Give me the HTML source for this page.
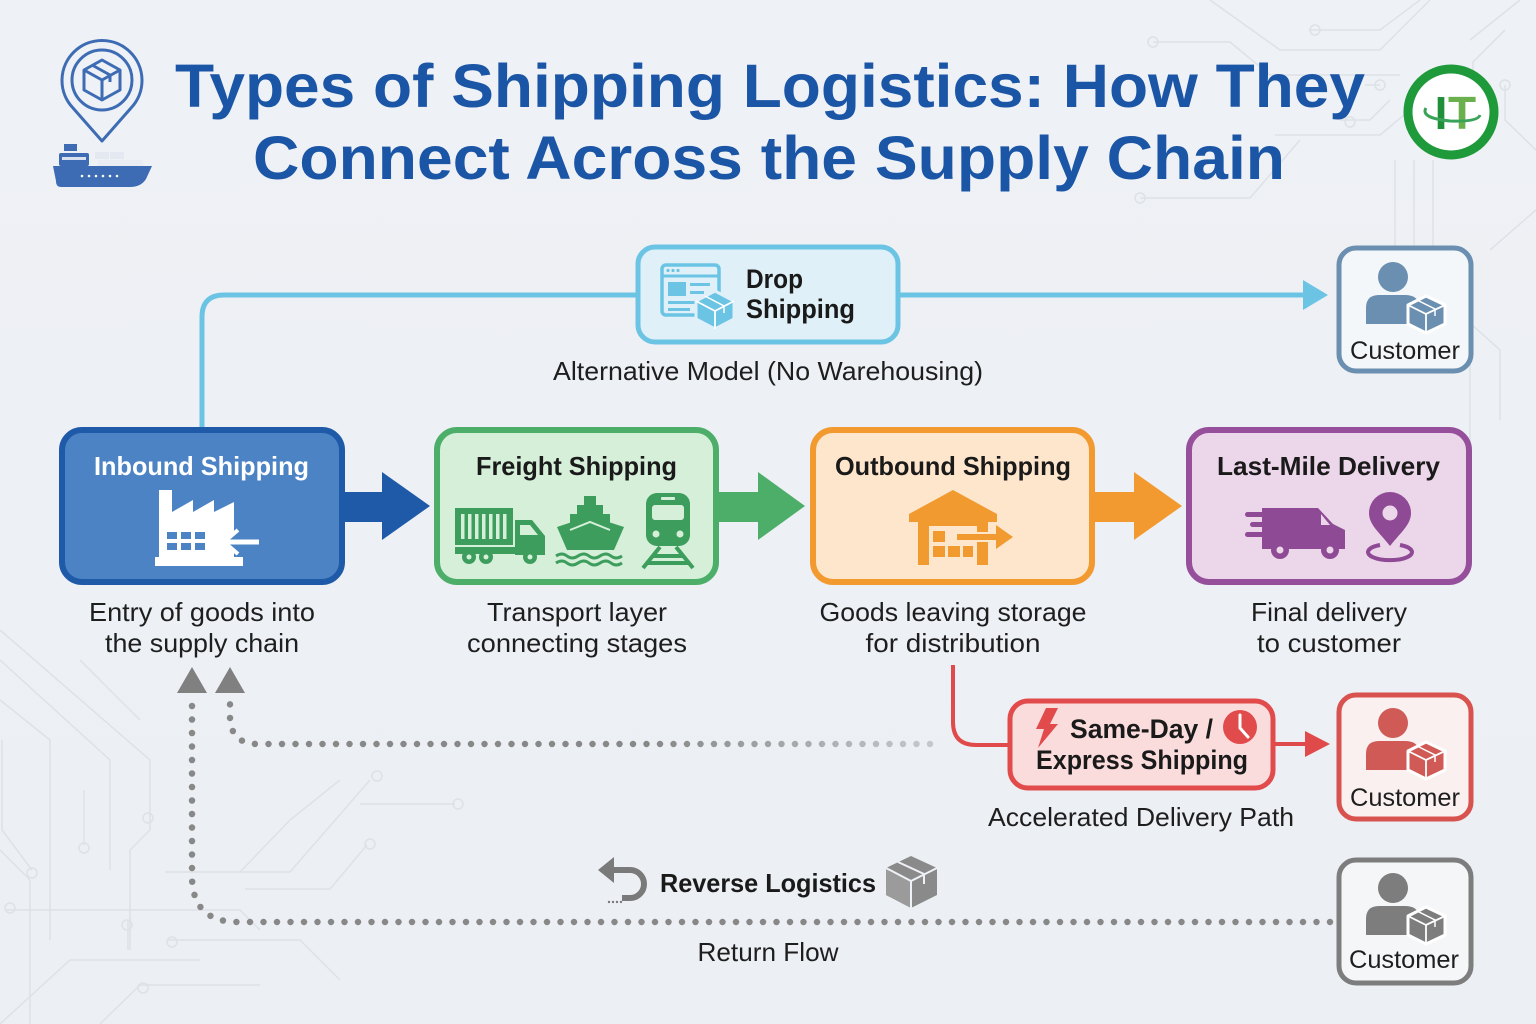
<!DOCTYPE html>
<html><head><meta charset="utf-8"><style>
html,body{margin:0;padding:0;background:#eef1f5;}
svg{display:block;}
text{font-family:"Liberation Sans",Arial,sans-serif;}
</style></head><body>
<svg width="1536" height="1024" viewBox="0 0 1536 1024" xmlns="http://www.w3.org/2000/svg">
<defs>
<linearGradient id="bg" x1="0" y1="0" x2="0" y2="1"><stop offset="0" stop-color="#eef1f5"/><stop offset="1" stop-color="#eceff3"/></linearGradient>
<linearGradient id="fade" gradientUnits="userSpaceOnUse" x1="650" y1="0" x2="930" y2="0"><stop offset="0" stop-color="#888"/><stop offset="1" stop-color="#c4c7cb"/></linearGradient>
<g id="cust">
  <circle cx="56" cy="31" r="15"/>
  <path d="M29 78 V62 Q29 49 42 49 H68 Q80 49 82 58 V78 Z"/>
  <polygon points="89,50 108,59 108,78 89,87 71,78 71,59" stroke="#ffffff" stroke-width="3" stroke-linejoin="round"/>
  <polyline points="71,59 89,68 108,59" fill="none" stroke="#ffffff" stroke-width="1.8"/>
  <line x1="89" y1="68" x2="89" y2="87" stroke="#ffffff" stroke-width="1.8"/>
  <polyline points="80,54 98,63 98,70" fill="none" stroke="#ffffff" stroke-width="1.5"/>
</g>
</defs>
<rect width="1536" height="1024" fill="url(#bg)"/>

<!-- faint circuit lines -->
<g fill="none" stroke="#dde2e8" stroke-width="1.5">
  <path d="M1210 0 L1280 50 H1380 L1430 0"/>
  <path d="M1310 30 H1380 L1420 0"/>
  <circle cx="1315" cy="30" r="5"/>
  <path d="M1153 42 H1230 L1270 75 H1400"/>
  <circle cx="1153" cy="42" r="5"/>
  <path d="M1365 85 H1380"/><circle cx="1380" cy="85" r="5"/>
  <path d="M1340 120 H1370 L1390 100"/><circle cx="1350" cy="122" r="5"/>
  <path d="M1275 135 H1380 L1410 110"/>
  <path d="M1140 198 H1250 L1300 140"/><circle cx="1140" cy="198" r="5"/>
  <path d="M1350 300 L1395 255 V160"/>
  <path d="M1414 160 V300 L1470 360 V500"/>
  <path d="M1433 160 V290 L1500 350 V420"/>
  <path d="M1470 40 L1520 0"/>
  <path d="M1505 30 L1473 62 V120"/>
  <path d="M1505 85 V120 L1536 150"/><circle cx="1505" cy="85" r="5"/>
  <path d="M1490 250 L1536 210"/>
  <path d="M0 630 L150 760 V830 L130 850 V950"/>
  <path d="M0 660 L110 760 V870"/>
  <path d="M0 700 L50 740 V940"/>
  <path d="M0 850 L30 880 L30 1024"/>
  <path d="M2 740 V830 L32 870"/><circle cx="32" cy="873" r="5"/>
  <circle cx="148" cy="818" r="5"/>
  <path d="M84 790 V845"/><circle cx="84" cy="848" r="5"/>
  <path d="M128 920 V950"/><circle cx="127" cy="925" r="5"/>
  <path d="M5 910 H240 L260 930"/><circle cx="10" cy="908" r="5"/>
  <path d="M168 940 H300 L340 980"/><circle cx="172" cy="942" r="5"/>
  <path d="M0 1024 L70 960 H200"/>
  <path d="M100 1024 L140 985 H260"/><circle cx="143" cy="988" r="5"/>
  <path d="M165 872 H290 L370 780"/><circle cx="377" cy="776" r="5"/>
  <path d="M245 889 H330 L367 845"/><circle cx="370" cy="844" r="5"/>
  <path d="M240 872 L290 820 L340 780"/>
  <path d="M360 804 H455"/><circle cx="458" cy="804" r="5"/>
  <path d="M80 660 L140 720"/>
</g>

<!-- title -->
<g fill="#1b55a6" font-weight="bold">
  <text x="175" y="107" font-size="61" textLength="1190" lengthAdjust="spacingAndGlyphs">Types of Shipping Logistics: How They</text>
  <text x="253" y="179" font-size="61" textLength="1032" lengthAdjust="spacingAndGlyphs">Connect Across the Supply Chain</text>
</g>

<!-- left logo -->
<g>
  <path d="M102 141 L73 108 A40 40 0 1 1 131 108 Z" fill="none" stroke="#3d6cb4" stroke-width="3" stroke-linejoin="round"/>
  <circle cx="102" cy="80" r="30" fill="none" stroke="#3d6cb4" stroke-width="3"/>
  <g fill="none" stroke="#3d6cb4" stroke-width="3" stroke-linejoin="round">
    <polygon points="102,60 120,70 120,90 102,100 84,90 84,70"/>
    <polyline points="84,70 102,80 120,70"/>
    <line x1="102" y1="80" x2="102" y2="100"/>
    <polyline points="92,65 110,75 110,82"/>
  </g>
  <rect x="64" y="144" width="13" height="7" fill="#3d6cb4"/>
  <rect x="59" y="153" width="30" height="13" rx="2" fill="#3d6cb4"/>
  <rect x="62" y="157" width="24" height="3" fill="#fff" opacity="0.8"/>
  <rect x="95" y="152" width="14" height="7" fill="#e4e9f1"/>
  <rect x="110" y="152" width="14" height="7" fill="#e4e9f1"/>
  <rect x="98" y="160" width="45" height="6" fill="#e9edf3"/>
  <path d="M53 166 H152 L146 179 Q141 187 130 187 H61 Q56 187 56 181 Z" fill="#3d6cb4"/>
  <g fill="#fff"><circle cx="82" cy="176" r="1.3"/><circle cx="89" cy="176" r="1.3"/><circle cx="96" cy="176" r="1.3"/><circle cx="103" cy="176" r="1.3"/><circle cx="110" cy="176" r="1.3"/><circle cx="117" cy="176" r="1.3"/></g>
</g>

<!-- right logo -->
<circle cx="1451" cy="112" r="43" fill="#ffffff" stroke="#1f9a3b" stroke-width="9"/>
<text x="1441" y="129" font-family="Liberation Serif,serif" font-weight="bold" font-size="46" fill="#1f8f3a" text-anchor="middle">I</text>
<text x="1462" y="129" font-family="Liberation Serif,serif" font-weight="bold" font-size="46" fill="#6ab04c" text-anchor="middle">T</text>
<path d="M1426 108 Q1420 118 1450 121 Q1478 122 1480 115" fill="none" stroke="#3aa35a" stroke-width="3"/>

<!-- drop shipping connector -->
<path d="M202 428 V317 Q202 295 224 295 H636" fill="none" stroke="#6cc4e4" stroke-width="5"/>
<path d="M900 295 H1310" fill="none" stroke="#6cc4e4" stroke-width="5"/>
<polygon points="1303,280 1328,295 1303,310" fill="#6cc4e4"/>

<!-- drop shipping box -->
<rect x="638" y="247" width="260" height="95" rx="17" fill="#dff0f8" stroke="#6cc4e4" stroke-width="5"/>
<g>
  <rect x="662" y="265" width="57" height="50" rx="4" fill="none" stroke="#6cc4e4" stroke-width="3.5"/>
  <line x1="662" y1="276" x2="719" y2="276" stroke="#6cc4e4" stroke-width="3"/>
  <g fill="#6cc4e4"><circle cx="668" cy="270.5" r="1.6"/><circle cx="673" cy="270.5" r="1.6"/><circle cx="678" cy="270.5" r="1.6"/>
  <rect x="668" y="282" width="18" height="14"/><rect x="690" y="283" width="20" height="3"/><rect x="690" y="291" width="14" height="3"/><rect x="668" y="301" width="28" height="3"/><rect x="668" y="308" width="22" height="3"/></g>
  <polygon points="715,291 734,301 734,319 715,329 696,319 696,301" fill="#6cc4e4" stroke="#dff0f8" stroke-width="3" stroke-linejoin="round"/>
  <polyline points="696,301 715,311 734,301" fill="none" stroke="#fff" stroke-width="1.8"/>
  <line x1="715" y1="311" x2="715" y2="329" stroke="#fff" stroke-width="1.8"/>
  <polyline points="705,296 724,306 724,313" fill="none" stroke="#fff" stroke-width="1.5"/>
</g>
<g fill="#1a1a1a" font-weight="bold" font-size="27">
  <text x="746" y="288" textLength="57" lengthAdjust="spacingAndGlyphs">Drop</text>
  <text x="746" y="318" textLength="109" lengthAdjust="spacingAndGlyphs">Shipping</text>
</g>
<text x="768" y="380" font-size="26" fill="#1e1e1e" text-anchor="middle" textLength="430" lengthAdjust="spacingAndGlyphs">Alternative Model (No Warehousing)</text>

<!-- customer 1 -->
<rect x="1339" y="248" width="132" height="123" rx="17" fill="#f4f7fa" stroke="#6b8fb0" stroke-width="5"/>
<use href="#cust" x="1337" y="246" fill="#6b8fb0"/>
<text x="1405" y="359" font-size="25" fill="#1e1e1e" text-anchor="middle" textLength="110" lengthAdjust="spacingAndGlyphs">Customer</text>

<!-- main block arrows -->
<polygon points="342,492 382,492 382,472 430,506 382,540 382,522 342,522" fill="#1e5aa8"/>
<polygon points="716,492 758,492 758,472 805,506 758,540 758,522 716,522" fill="#4cae68"/>
<polygon points="1092,492 1134,492 1134,472 1182,506 1134,540 1134,522 1092,522" fill="#f29a30"/>

<!-- Inbound box -->
<rect x="62" y="430" width="280" height="152" rx="20" fill="#4b83c5" stroke="#1e5aa8" stroke-width="6"/>
<text x="94" y="475" font-size="26" font-weight="bold" fill="#ffffff" textLength="215" lengthAdjust="spacingAndGlyphs">Inbound Shipping</text>
<g>
  <path d="M159 560 V490 H172 V512 L193 500 V512 L214 500 V512 L234 502 V532 L222 542 L234 552 V560 Z" fill="#ffffff"/>
  <rect x="155" y="557" width="88" height="9" fill="#ffffff"/>
  <g fill="#4b83c5"><rect x="167" y="532" width="10" height="7"/><rect x="181" y="532" width="10" height="7"/><rect x="195" y="532" width="10" height="7"/>
  <rect x="167" y="543" width="10" height="7"/><rect x="181" y="543" width="10" height="7"/><rect x="195" y="543" width="10" height="7"/></g>
  <line x1="226" y1="542" x2="259" y2="542" stroke="#ffffff" stroke-width="5"/>
  <polyline points="238,530 224,542 238,554" fill="none" stroke="#ffffff" stroke-width="4"/>
</g>

<!-- Freight box -->
<rect x="437" y="430" width="279" height="152" rx="20" fill="#d5efd9" stroke="#4cae68" stroke-width="6"/>
<text x="476" y="475" font-size="26" font-weight="bold" fill="#1a1a1a" textLength="201" lengthAdjust="spacingAndGlyphs">Freight Shipping</text>
<g fill="#3d9d5c">
  <rect x="455" y="508" width="58" height="37"/>
  <g fill="#d5efd9"><rect x="461" y="514" width="3.5" height="25"/><rect x="468" y="514" width="3.5" height="25"/><rect x="475" y="514" width="3.5" height="25"/><rect x="482" y="514" width="3.5" height="25"/><rect x="489" y="514" width="3.5" height="25"/><rect x="496" y="514" width="3.5" height="25"/><rect x="503" y="514" width="3.5" height="25"/></g>
  <path d="M515 520 H532 L545 536 V555 H515 Z"/>
  <polygon points="520,525 530,525 538,535 520,535" fill="#d5efd9"/>
  <rect x="455" y="547" width="90" height="7"/>
  <circle cx="469" cy="557" r="7"/><circle cx="486" cy="557" r="7"/><circle cx="530" cy="557" r="7"/>
  <g fill="#d5efd9"><circle cx="469" cy="557" r="2.5"/><circle cx="486" cy="557" r="2.5"/><circle cx="530" cy="557" r="2.5"/></g>
  <rect x="584" y="496" width="12" height="10"/>
  <rect x="577" y="505" width="26" height="10"/>
  <rect x="570" y="514" width="40" height="9"/>
  <path d="M557 527 L590 516 L624 527 L614 550 H567 Z"/>
  <polyline points="570,530 590,522 610,530" fill="none" stroke="#d5efd9" stroke-width="2"/>
  <path d="M556 556 q6 -4 11 0 t11 0 t11 0 t11 0 t11 0 t11 0" fill="none" stroke="#3d9d5c" stroke-width="3"/>
  <path d="M556 563 q6 -4 11 0 t11 0 t11 0 t11 0 t11 0 t11 0" fill="none" stroke="#3d9d5c" stroke-width="3"/>
  <rect x="646" y="493" width="44" height="53" rx="11"/>
  <rect x="652" y="505" width="32" height="15" rx="3" fill="#d5efd9"/>
  <rect x="661" y="497" width="14" height="3" rx="1" fill="#d5efd9"/>
  <circle cx="656" cy="534" r="3.5" fill="#d5efd9"/><circle cx="680" cy="534" r="3.5" fill="#d5efd9"/>
  <g stroke="#3d9d5c" stroke-width="4"><line x1="660" y1="547" x2="643" y2="568"/><line x1="676" y1="547" x2="693" y2="568"/><line x1="652" y1="556" x2="684" y2="556"/><line x1="647" y1="563" x2="689" y2="563"/></g>
</g>

<!-- Outbound box -->
<rect x="813" y="430" width="279" height="152" rx="20" fill="#fde6cc" stroke="#f29a30" stroke-width="6"/>
<text x="835" y="475" font-size="26" font-weight="bold" fill="#1a1a1a" textLength="236" lengthAdjust="spacingAndGlyphs">Outbound Shipping</text>
<g fill="#f09a30">
  <path d="M909 514 L953 490 L997 514 V522 H988 V565 H977 V520 H929 V565 H918 V522 H909 Z"/>
  <rect x="929" y="520" width="48" height="6"/>
  <rect x="933" y="531" width="12" height="11"/>
  <rect x="933" y="546" width="12" height="11"/><rect x="948" y="546" width="12" height="11"/><rect x="963" y="546" width="10" height="11"/>
  <rect x="956" y="533" width="42" height="8" stroke="#fde6cc" stroke-width="2"/>
  <polygon points="996,525 1013,537 996,549"/>
</g>

<!-- Last-mile box -->
<rect x="1189" y="430" width="280" height="152" rx="20" fill="#ecd6ea" stroke="#96509b" stroke-width="6"/>
<text x="1217" y="475" font-size="26" font-weight="bold" fill="#1a1a1a" textLength="223" lengthAdjust="spacingAndGlyphs">Last-Mile Delivery</text>
<g fill="#8e4a94">
  <rect x="1245" y="512" width="30" height="5" rx="2.5"/><rect x="1250" y="522" width="25" height="5" rx="2.5"/><rect x="1245" y="532" width="30" height="5" rx="2.5"/>
  <path d="M1262 508 H1318 L1333 524 L1345 530 V549 H1262 Z"/>
  <polygon points="1321,514 1330,525 1321,525" fill="#ecd6ea"/>
  <circle cx="1280" cy="550" r="9"/><circle cx="1330" cy="550" r="9"/>
  <circle cx="1280" cy="550" r="3.5" fill="#ecd6ea"/><circle cx="1330" cy="550" r="3.5" fill="#ecd6ea"/>
  <path d="M1390 546 C1380 533 1369 525 1369 513 A21 21 0 0 1 1411 513 C1411 525 1400 533 1390 546 Z"/>
  <circle cx="1390" cy="513" r="7.5" fill="#ecd6ea"/>
  <path d="M1380 545 A22 8 0 1 0 1400 545" fill="none" stroke="#8e4a94" stroke-width="4"/>
</g>

<!-- captions -->
<g font-size="26" fill="#1e1e1e" text-anchor="middle">
  <text x="202" y="621" textLength="226" lengthAdjust="spacingAndGlyphs">Entry of goods into</text>
  <text x="202" y="652" textLength="194" lengthAdjust="spacingAndGlyphs">the supply chain</text>
  <text x="577" y="621" textLength="180" lengthAdjust="spacingAndGlyphs">Transport layer</text>
  <text x="577" y="652" textLength="220" lengthAdjust="spacingAndGlyphs">connecting stages</text>
  <text x="953" y="621" textLength="267" lengthAdjust="spacingAndGlyphs">Goods leaving storage</text>
  <text x="953" y="652" textLength="175" lengthAdjust="spacingAndGlyphs">for distribution</text>
  <text x="1329" y="621" textLength="156" lengthAdjust="spacingAndGlyphs">Final delivery</text>
  <text x="1329" y="652" textLength="144" lengthAdjust="spacingAndGlyphs">to customer</text>
</g>

<!-- express connector -->
<path d="M953 665 V722 Q953 745 976 745 H1010" fill="none" stroke="#e04a4a" stroke-width="4"/>
<path d="M1275 744 H1310" fill="none" stroke="#e04a4a" stroke-width="4"/>
<polygon points="1305,731 1330,744 1305,757" fill="#e04a4a"/>
<rect x="1010" y="701" width="263" height="87" rx="18" fill="#fbdcdc" stroke="#e24b4b" stroke-width="5"/>
<polygon points="1046,708 1058,708 1050,724 1058,724 1038,748 1044,729 1036,729" fill="#e24b4b"/>
<circle cx="1240" cy="727" r="17" fill="#e24b4b"/>
<polyline points="1240,715 1240,728 1248,737" fill="none" stroke="#ffffff" stroke-width="3" stroke-linecap="round"/>
<g fill="#1a1a1a" font-weight="bold" font-size="27">
  <text x="1070" y="738" textLength="143" lengthAdjust="spacingAndGlyphs">Same-Day /</text>
  <text x="1036" y="769" textLength="212" lengthAdjust="spacingAndGlyphs">Express Shipping</text>
</g>
<text x="1141" y="826" font-size="26" fill="#1e1e1e" text-anchor="middle" textLength="306" lengthAdjust="spacingAndGlyphs">Accelerated Delivery Path</text>

<!-- customer 2 -->
<rect x="1339" y="695" width="132" height="124" rx="17" fill="#faf0f0" stroke="#d8534f" stroke-width="5"/>
<use href="#cust" x="1337" y="692" fill="#d05a56"/>
<text x="1405" y="806" font-size="25" fill="#1e1e1e" text-anchor="middle" textLength="110" lengthAdjust="spacingAndGlyphs">Customer</text>

<!-- dotted return flows -->
<path d="M930 744 H258 Q230 744 230 716 V700" fill="none" stroke="url(#fade)" stroke-width="6.5" stroke-linecap="round" stroke-dasharray="0 13.5"/>
<path d="M1330 922 H238 Q192 922 192 876 V700" fill="none" stroke="#888888" stroke-width="6.5" stroke-linecap="round" stroke-dasharray="0 13.5"/>
<polygon points="192,667 207,693 177,693" fill="#808080"/>
<polygon points="230,667 245,693 215,693" fill="#808080"/>

<!-- reverse logistics label -->
<g>
  <polygon points="598,870 614,857 614,883" fill="#7a7a7a"/>
  <path d="M612 870 H630 A14 14 0 0 1 630 898 H622" fill="none" stroke="#7a7a7a" stroke-width="6"/>
  <g fill="#7a7a7a"><circle cx="609" cy="902" r="1.2"/><circle cx="613" cy="902" r="1.2"/><circle cx="617" cy="902" r="1.2"/><circle cx="621" cy="902" r="1.2"/></g>
  <polygon points="911,856 937,868 937,895 911,908 886,895 886,868" fill="#8a8a8a"/>
  <polygon points="886,868 911,881 911,908 886,895" fill="#9b9b9b"/>
  <polyline points="886,868 911,881 937,868" fill="none" stroke="#eef1f5" stroke-width="2"/>
  <line x1="911" y1="881" x2="911" y2="908" stroke="#eef1f5" stroke-width="2"/>
  <polyline points="898,862 924,874 924,884" fill="none" stroke="#eef1f5" stroke-width="2"/>
</g>
<text x="660" y="892" font-size="26" font-weight="bold" fill="#1a1a1a" textLength="216" lengthAdjust="spacingAndGlyphs">Reverse Logistics</text>
<text x="768" y="961" font-size="26" fill="#1e1e1e" text-anchor="middle" textLength="141" lengthAdjust="spacingAndGlyphs">Return Flow</text>

<!-- customer 3 -->
<rect x="1339" y="860" width="132" height="123" rx="17" fill="#f5f6f7" stroke="#7d7d7d" stroke-width="5"/>
<use href="#cust" x="1337" y="857" fill="#7d7d7d"/>
<text x="1404" y="968" font-size="25" fill="#1e1e1e" text-anchor="middle" textLength="110" lengthAdjust="spacingAndGlyphs">Customer</text>
</svg>
</body></html>
